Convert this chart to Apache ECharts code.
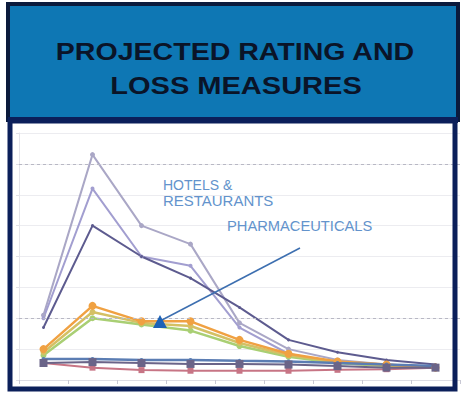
<!DOCTYPE html>
<html><head><meta charset="utf-8">
<script src="https://cdn.jsdelivr.net/npm/echarts@6/dist/echarts.min.js"></script>
<style>html,body{margin:0;padding:0;background:#fff;}#c{width:461px;height:395px;}</style>
</head><body><div id="c"></div>
<script>
const categories = ['1','2','3','4','5','6','7','8','9'];
const seriesTopLight = [2.1, 7.3, 5.0, 4.4, 1.85, 1.0, 0.65, 0.5, 0.4];
const seriesTopMid   = [2.0, 6.2, 4.0, 3.7, 1.7, 0.85, 0.55, 0.45, 0.4];
const seriesTopDark  = [1.7, 5.0, 4.0, 3.3, 2.35, 1.3, 0.9, 0.65, 0.5];
const seriesOrange   = [1.0, 2.4, 1.9, 1.9, 1.3, 0.85, 0.6, 0.5, 0.4];
const seriesOlive    = [0.9, 2.2, 1.85, 1.75, 1.2, 0.8, 0.58, 0.48, 0.4];
const seriesGreen    = [0.8, 2.0, 1.8, 1.6, 1.1, 0.75, 0.55, 0.45, 0.4];
const seriesBlue     = [0.68, 0.68, 0.65, 0.65, 0.62, 0.6, 0.55, 0.5, 0.45];
const seriesNavy     = [0.55, 0.58, 0.55, 0.52, 0.52, 0.5, 0.45, 0.4, 0.4];
const seriesPink     = [0.55, 0.4, 0.32, 0.3, 0.3, 0.3, 0.33, 0.35, 0.4];
const yTicks = [0, 1, 2, 3, 4, 5, 6, 7, 8];
const dashedLevels = [7, 2];

const chart = echarts.init(document.getElementById('c'), null, {renderer: 'svg'});

function line(name, data, color, width, symbol, size, z) {
  return {
    name, type: 'line', data, z: z || 2,
    symbol: symbol || 'circle', symbolSize: size || 4, showSymbol: true,
    lineStyle: {color, width: width || 2},
    itemStyle: {color},
    animation: false
  };
}

const series = [
  line('A', seriesTopLight, '#aaa7c6', 2, 'circle', 5),
  line('B', seriesTopMid, '#a29ed0', 2, 'circle', 4),
  line('C', seriesTopDark, '#5d5b8f', 2, 'circle', 3),
  line('Green', seriesGreen, '#a9cf74', 2.5, 'circle', 6),
  line('Olive', seriesOlive, '#d4c064', 2.5, 'circle', 6),
  line('Orange', seriesOrange, '#f0a142', 2.5, 'circle', 8),
  line('Pink', seriesPink, '#c77585', 2, 'rect', 6),
  line('Blue', seriesBlue, '#5b7db3', 2.5, 'circle', 4),
  line('Navy', seriesNavy, '#6a6488', 2, 'rect', 8)
];
series[0].markLine = {
  silent: true, symbol: 'none', animation: false,
  label: {show: false},
  lineStyle: {color: '#b8b8c4', type: [3, 3], width: 1},
  data: dashedLevels.map(v => ({yAxis: v}))
};

chart.setOption({
  backgroundColor: '#ffffff',
  animation: false,
  grid: {left: 19, right: 1, top: 133, bottom: 15, containLabel: false},
  xAxis: {
    type: 'category', data: categories, boundaryGap: true,
    axisLine: {lineStyle: {color: '#dcdce4'}},
    axisTick: {show: true, length: 4, lineStyle: {color: '#c8c8d4'}},
    axisLabel: {show: false}
  },
  yAxis: {
    type: 'value', min: yTicks[0], max: yTicks[yTicks.length - 1], interval: 1,
    axisLine: {show: true, lineStyle: {color: '#e4e4ea'}},
    axisTick: {show: true, length: 3, lineStyle: {color: '#e0e0e8'}},
    axisLabel: {show: false},
    splitLine: {show: true, lineStyle: {color: '#ececf0', width: 1}}
  },
  series,
  graphic: [
    {type: 'rect', z: 20, shape: {x: 8, y: 4, width: 450, height: 116},
     style: {fill: '#0e77b4', stroke: '#0b1a3c', lineWidth: 4}},
    {type: 'rect', z: 21, shape: {x: 8, y: 117, width: 450, height: 6},
     style: {fill: '#0b1f5a'}},
    {type: 'rect', z: 20, shape: {x: 10, y: 121, width: 445, height: 268},
     style: {fill: 'none', stroke: '#0b1f5a', lineWidth: 5}},
    {type: 'text', z: 22, x: 235, y: 52, scaleX: 1.19, scaleY: 1,
     style: {text: 'PROJECTED RATING AND', font: 'bold 24px "Liberation Sans", Arial, sans-serif',
             fill: '#0a1428', textAlign: 'center', textVerticalAlign: 'middle'}},
    {type: 'text', z: 22, x: 236, y: 86, scaleX: 1.21, scaleY: 1,
     style: {text: 'LOSS MEASURES', font: 'bold 24px "Liberation Sans", Arial, sans-serif',
             fill: '#0a1428', textAlign: 'center', textVerticalAlign: 'middle'}},
    {type: 'text', z: 15, x: 163, y: 184.5, scaleX: 1.0,
     style: {text: 'HOTELS &', font: '14px "Liberation Sans", Arial, sans-serif',
             fill: '#6393cc', textAlign: 'left', textVerticalAlign: 'middle'}},
    {type: 'text', z: 15, x: 163, y: 201.5, scaleX: 1.07,
     style: {text: 'RESTAURANTS', font: '14px "Liberation Sans", Arial, sans-serif',
             fill: '#6393cc', textAlign: 'left', textVerticalAlign: 'middle'}},
    {type: 'text', z: 15, x: 227, y: 226, scaleX: 1.05,
     style: {text: 'PHARMACEUTICALS', font: '14px "Liberation Sans", Arial, sans-serif',
             fill: '#6393cc', textAlign: 'left', textVerticalAlign: 'middle'}},
    {type: 'line', z: 15, shape: {x1: 300, y1: 248, x2: 162, y2: 320},
     style: {stroke: '#3d6fb0', lineWidth: 1.5}},
    {type: 'polygon', z: 16, shape: {points: [[160, 315], [153, 328], [167, 328]]},
     style: {fill: '#1d62b6'}}
  ]
});
</script></body></html>
